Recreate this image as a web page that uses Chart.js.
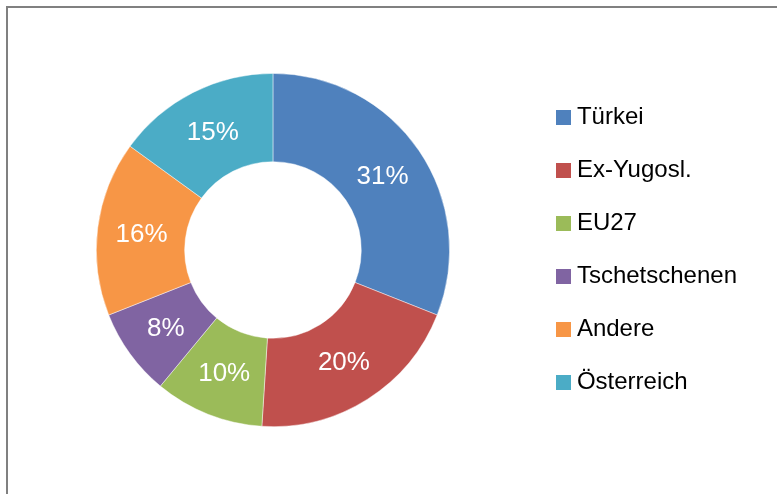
<!DOCTYPE html>
<html>
<head>
<meta charset="utf-8">
<script src="https://cdn.jsdelivr.net/npm/chart.js@4"></script>
<style>
  html, body { margin: 0; padding: 0; background: #fff; }
  #frame {
    position: absolute; left: 6px; top: 6px; width: 800px; height: 520px;
    border-left: 2px solid #808080; border-top: 2px solid #808080;
  }
  #chart { position: absolute; left: 0; top: 0; }
</style>
</head>
<body>
<div id="frame"></div>
<canvas id="chart" width="777" height="494"></canvas>
<script>
// data
const categories = ['Türkei', 'Ex-Yugosl.', 'EU27', 'Tschetschenen', 'Andere', 'Österreich'];
const shares = [31, 20, 10, 8, 16, 15];
const colors = ['#4F81BD', '#C0504D', '#9BBB59', '#8064A2', '#F79646', '#4BACC6'];

// small colored squares used as legend markers
function makeSwatch(color) {
  const c = document.createElement('canvas');
  c.width = 15;
  c.height = 15;
  const g = c.getContext('2d');
  g.fillStyle = color;
  g.fillRect(0, 0, 15, 15);
  return c;
}
const swatches = colors.map(makeSwatch);

const percentLabels = {
  id: 'percent_labels',
  afterDatasetsDraw: (chart) => {
    const ctx = chart.ctx;
    const meta = chart.getDatasetMeta(0);
    ctx.save();
    ctx.fillStyle = '#ffffff';
    ctx.font = '26px "Liberation Sans", Arial, sans-serif';
    ctx.textAlign = 'center';
    ctx.textBaseline = 'middle';
    meta.data.forEach(function(arc, i) {
      const p = arc.tooltipPosition();
      ctx.fillText(shares[i] + '%', p.x, p.y + 1);
    });
    ctx.restore();
  }
};

const ctx = document.getElementById('chart').getContext('2d');
const chart = new Chart(ctx, {
  type: 'doughnut',
  plugins: [percentLabels],
  data: {
    labels: categories,
    datasets: [{
      data: shares,
      backgroundColor: colors,
      borderColor: 'rgba(255,255,255,0.6)',
      borderWidth: 0.75,
    }]
  },
  options: {
    responsive: false,
    animation: false,
    cutout: '50%',
    layout: {
      padding: { left: 13, right: 30, top: 73, bottom: 67 }
    },
    plugins: {
      tooltip: { enabled: false },
      legend: {
        position: 'right',
        labels: {
          usePointStyle: true,
          pointStyleWidth: 3,
          padding: 29,
          color: '#000000',
          font: { family: '"Liberation Sans", Arial, sans-serif', size: 24 },
          generateLabels: function(chart) {
            const items = Chart.overrides.doughnut.plugins.legend.labels.generateLabels(chart);
            items.forEach(function(item, i) {
              item.pointStyle = swatches[i];
            });
            return items;
          }
        }
      }
    }
  }
});
</script>
</body>
</html>
